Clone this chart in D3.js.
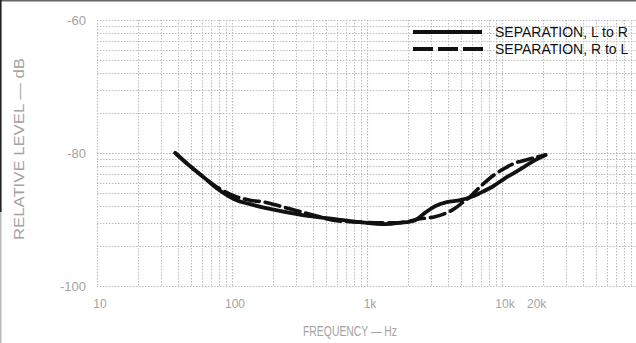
<!DOCTYPE html>
<html>
<head>
<meta charset="utf-8">
<script src="https://cdn.jsdelivr.net/npm/d3@7"></script>
<style>
  html, body { margin: 0; padding: 0; background: #fff; }
  svg { display: block; }
</style>
</head>
<body>
<svg id="chart" width="636" height="343"></svg>
<script>
// ---- data ----
const freqTicks = [10, 100, 1000, 10000, 20000];
const freqTickLabels = ["10", "100", "1k", "10k", "20k"];
const levelTicks = [-60, -80, -100];
const levelTickLabels = ["-60", "-80", "-100"];

const seriesNames = ["SEPARATION, L to R", "SEPARATION, R to L"];

const freqLtoR = [38, 49, 63, 77, 105, 136, 191, 269, 378, 560, 887, 1360, 1755, 2270, 2690, 3190, 3900, 4900, 6100, 6900, 8600, 10500, 12500, 14800, 17500, 21000];
const levelLtoR = [-80.0, -82.0, -83.8, -85.3, -87.0, -87.7, -88.4, -89.0, -89.5, -89.9, -90.4, -90.7, -90.5, -90.1, -89.0, -88.0, -87.4, -87.1, -86.5, -86.0, -85.0, -83.8, -82.9, -82.0, -81.1, -80.3];

const freqRtoL = [38, 49, 63, 77, 105, 136, 175, 227, 293, 378, 560, 887, 1360, 1910, 2470, 3190, 3900, 4490, 5060, 5800, 6870, 8730, 10500, 12500, 14800, 18200, 21000];
const levelRtoL = [-80.0, -82.0, -83.8, -85.1, -86.5, -87.1, -87.4, -88.0, -88.6, -89.2, -90.1, -90.4, -90.5, -90.4, -89.9, -89.6, -89.0, -88.3, -87.5, -86.6, -85.1, -83.3, -82.3, -81.5, -81.1, -80.6, -80.3];

// ---- layout ----
const svg = d3.select("#chart");
const W = 636, H = 343;
const x = d3.scaleLog().domain([10, 100000]).range([97, 637]);
const y = d3.scaleLinear().domain([-100, -60]).range([286, 20]);

const gridCol = "#bdbdbd";
const labelCol = "#a3a3a3";
const font = "'Liberation Sans', Arial, sans-serif";

// scan edge artefacts
svg.append("line").attr("x1", 0).attr("x2", W).attr("y1", 0.5).attr("y2", 0.5)
  .attr("stroke", "#666").attr("stroke-width", 2);
svg.append("line").attr("x1", 0.8).attr("x2", 0.8).attr("y1", 0).attr("y2", 212)
  .attr("stroke", "#222").attr("stroke-width", 1.6);
svg.append("line").attr("x1", 0.8).attr("x2", 0.8).attr("y1", 212).attr("y2", H)
  .attr("stroke", "#aaa").attr("stroke-width", 1.2);

// ---- grid (log paper) ----
const grid = svg.append("g");
const vLines = [];
for (let dec = 10; dec < 100000; dec *= 10) {
  for (let k = 1; k <= 9; k++) vLines.push(dec * k);
}
vLines.push(100000);
grid.selectAll("line.v").data(vLines).join("line")
  .attr("class", "v")
  .attr("x1", d => Math.round(x(d)) + 0.5).attr("x2", d => Math.round(x(d)) + 0.5)
  .attr("y1", y(-60)).attr("y2", y(-100))
  .attr("stroke", gridCol)
  .attr("stroke-width", d => ([10, 100, 1000, 10000].includes(d) ? 1.2 : 1))
  .attr("stroke-dasharray", "1.5,1.5");

const hLines = [];
[-100, -80].forEach(base => {
  for (let k = 1; k <= 10; k++) hLines.push(base + 20 * Math.log10(k));
});
grid.selectAll("line.h").data(hLines).join("line")
  .attr("class", "h")
  .attr("x1", x(10)).attr("x2", W)
  .attr("y1", d => Math.round(y(d)) + 0.5).attr("y2", d => Math.round(y(d)) + 0.5)
  .attr("stroke", gridCol)
  .attr("stroke-width", 1)
  .attr("stroke-dasharray", "1.5,1.5");

// ---- axes labels ----
svg.selectAll("text.ytick").data(levelTicks).join("text")
  .attr("class", "ytick")
  .attr("x", 86).attr("y", d => y(d)).attr("dy", "0.35em")
  .attr("text-anchor", "end")
  .attr("font-family", font).attr("font-size", 13)
  .attr("fill", labelCol)
  .text((d, i) => levelTickLabels[i]);

svg.selectAll("text.xtick").data(freqTicks).join("text")
  .attr("class", "xtick")
  .attr("x", d => x(d) + (d === 20000 ? -6 : 3)).attr("y", 304).attr("dy", "0.35em")
  .attr("text-anchor", "middle")
  .attr("font-family", font).attr("font-size", 12)
  .attr("fill", labelCol)
  .text((d, i) => freqTickLabels[i]);

svg.append("text")
  .attr("x", 303).attr("y", 336)
  .attr("font-family", font).attr("font-size", 14)
  .attr("fill", labelCol)
  .attr("textLength", 94).attr("lengthAdjust", "spacingAndGlyphs")
  .text("FREQUENCY — Hz");

svg.append("text")
  .attr("transform", "translate(24,240) rotate(-90)")
  .attr("font-family", font).attr("font-size", 15)
  .attr("fill", labelCol)
  .attr("textLength", 182).attr("lengthAdjust", "spacingAndGlyphs")
  .text("RELATIVE LEVEL — dB");

// ---- curves ----
const line = d3.line()
  .x(d => x(d[0])).y(d => y(d[1]))
  .curve(d3.curveCatmullRom.alpha(0.5));

const dataRtoL = freqRtoL.map((f, i) => [f, levelRtoL[i]]);
const dataLtoR = freqLtoR.map((f, i) => [f, levelLtoR[i]]);

svg.append("path").datum(dataRtoL)
  .attr("d", line)
  .attr("fill", "none").attr("stroke", "#111")
  .attr("stroke-width", 3.6)
  .attr("stroke-dasharray", "15,6")
  .attr("stroke-linecap", "round");

svg.append("path").datum(dataLtoR)
  .attr("d", line)
  .attr("fill", "none").attr("stroke", "#111")
  .attr("stroke-width", 3.8)
  .attr("stroke-linecap", "round");

// ---- legend ----
const legend = svg.append("g");
const legendY = [32, 49];
legend.append("line").attr("x1", 413).attr("x2", 482).attr("y1", legendY[0]).attr("y2", legendY[0])
  .attr("stroke", "#111").attr("stroke-width", 4);
legend.append("line").attr("x1", 413).attr("x2", 484).attr("y1", legendY[1]).attr("y2", legendY[1])
  .attr("stroke", "#111").attr("stroke-width", 4).attr("stroke-dasharray", "20,5");
legend.selectAll("text").data(seriesNames).join("text")
  .attr("x", 495).attr("y", (d, i) => legendY[i]).attr("dy", "0.35em")
  .attr("font-family", font).attr("font-size", 14)
  .attr("fill", "#111")
  .text(d => d);
</script>
</body>
</html>
